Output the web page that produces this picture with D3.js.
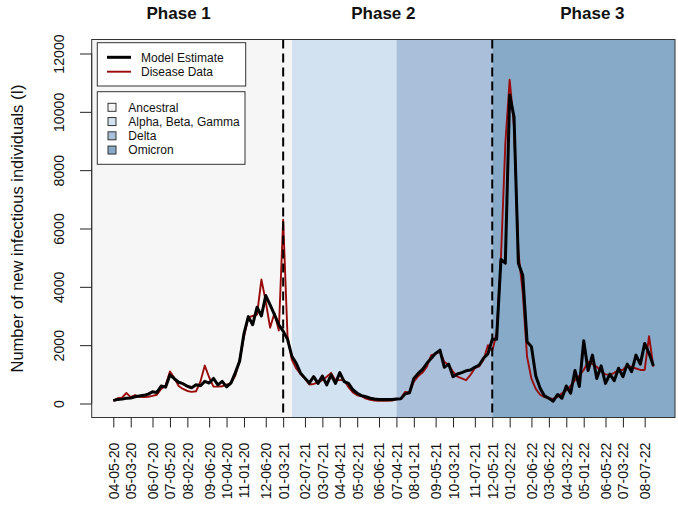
<!DOCTYPE html>
<html><head><meta charset="utf-8">
<script src="https://cdn.jsdelivr.net/npm/d3@7"></script>
<style>body{margin:0;background:#fff}svg{display:block;font-family:"Liberation Sans",Arial,sans-serif}</style>
</head><body><svg id="c" width="678" height="508"></svg>
<script>
const tickLabels = ["04-05-20","05-03-20","06-07-20","07-05-20","08-02-20","09-06-20","10-04-20","11-01-20","12-06-20","01-03-21","02-07-21","03-07-21","04-04-21","05-02-21","06-06-21","07-04-21","08-01-21","09-05-21","10-03-21","11-07-21","12-05-21","01-02-22","02-06-22","03-06-22","04-03-22","05-01-22","06-05-22","07-03-22","08-07-22"];
const seriesStart = "04-05-20";
const modelEstimate = [100,140,150,180,190,230,260,280,320,400,380,600,560,980,850,730,680,590,540,640,610,760,700,860,640,760,570,700,1050,1450,2400,2980,2700,3300,3000,3700,3380,3050,2700,2480,2200,1620,1380,1040,870,700,920,690,940,640,980,690,1060,750,690,470,350,270,230,180,155,140,140,140,140,155,160,330,370,860,1030,1170,1380,1550,1720,1830,1240,1350,920,1010,1060,1120,1150,1240,1320,1550,1700,2200,2200,4940,4810,10580,9830,4810,4400,2120,1950,940,520,260,180,80,310,180,600,350,1130,580,2150,1130,1660,860,1290,690,1010,780,1210,920,1350,1090,1660,1350,2060,1720,1290];
const diseaseData = [100,180,200,360,220,290,230,220,230,260,300,500,620,1100,880,600,500,430,400,420,750,1300,900,580,580,590,650,700,950,1500,2300,2950,3000,3050,4250,3500,2600,3100,2500,6300,2300,1500,1200,1010,850,650,670,720,800,920,1050,800,800,800,560,380,280,250,170,130,100,90,90,90,100,140,160,400,380,750,940,1060,1260,1660,1700,1780,1430,1320,1090,920,860,800,980,1210,1270,1500,2000,1800,2400,5000,8900,11100,9500,5200,3800,1600,850,500,300,220,170,160,230,350,450,600,800,950,1150,1430,1350,1260,1100,1000,980,1050,1150,1150,1320,1250,1200,1150,1150,2310,1260];
const variantNames = ["Ancestral","Alpha, Beta, Gamma","Delta","Omicron"];
const variantStarts = [null,"01-17-21","07-04-21","12-05-21"];
const variantColors = ["#f6f6f6","#d3e2f0","#aac0da","#87aac8"];
const phaseNames = ["Phase 1","Phase 2","Phase 3"];
const phaseLabelDates = ["07-19-20","06-13-21","05-15-22"];
const phaseBreaks = ["01-03-21","12-05-21"];
const yTickValues = [0,2000,4000,6000,8000,10000,12000];
const legendSeries = ["Model Estimate","Disease Data"];

const parse = d3.timeParse("%m-%d-%y");
const t0 = parse(seriesStart);
const dates = modelEstimate.map((_, i) => d3.timeWeek.offset(t0, i));
const tEnd = dates[dates.length - 1];
const pad = 0.04 * (tEnd - t0);

const L = 91.7, R = 675, T = 39.5, B = 417.5;
const x = d3.scaleTime().domain([new Date(+t0 - pad), new Date(+tEnd + pad)]).range([L, R]);
const y = d3.scaleLinear().domain([-480, 12480]).range([B, T]);

const svg = d3.select("#c");

// backgrounds
const starts = variantStarts.map(s => s ? x(parse(s)) : L);
svg.append("g").selectAll("rect").data(variantNames).join("rect")
  .attr("x", (d, i) => starts[i])
  .attr("y", T)
  .attr("width", (d, i) => (i < starts.length - 1 ? starts[i + 1] : R) - starts[i])
  .attr("height", B - T)
  .attr("fill", (d, i) => variantColors[i]);

// lines
const line = d3.line().x((d, i) => x(dates[i])).y(d => y(d));
svg.append("path").datum(diseaseData).attr("d", line)
  .attr("fill", "none").attr("stroke", "#9a0a0a").attr("stroke-width", 1.9).attr("stroke-linejoin", "round");
svg.append("path").datum(modelEstimate).attr("d", line)
  .attr("fill", "none").attr("stroke", "#000").attr("stroke-width", 3).attr("stroke-linejoin", "round");

// phase dashed lines
svg.append("g").selectAll("line").data(phaseBreaks).join("line")
  .attr("x1", d => x(parse(d))).attr("x2", d => x(parse(d)))
  .attr("y1", T).attr("y2", B)
  .attr("stroke", "#000").attr("stroke-width", 2).attr("stroke-dasharray", "9,5");

// box
svg.append("rect").attr("x", L).attr("y", T).attr("width", R - L).attr("height", B - T)
  .attr("fill", "none").attr("stroke", "#333").attr("stroke-width", 1);

// x axis
const xAxis = d3.axisBottom(x).tickValues(tickLabels.map(parse)).tickFormat(d3.timeFormat("%m-%d-%y")).tickSizeOuter(0).tickSize(10);
const gx = svg.append("g").attr("transform", `translate(0,${B})`).call(xAxis);
gx.select(".domain").remove();
gx.selectAll(".tick line").attr("stroke", "#222");
gx.selectAll(".tick text")
  .attr("font-size", 14.2).attr("fill", "#111").attr("font-family", "Liberation Sans, Arial, sans-serif")
  .attr("transform", "rotate(-90)")
  .attr("text-anchor", "end").attr("x", -25).attr("y", 0).attr("dy", "0.35em");

// y axis
const yAxis = d3.axisLeft(y).tickValues(yTickValues).tickFormat(d3.format("d")).tickSize(11.7).tickSizeOuter(0);
const gy = svg.append("g").attr("transform", `translate(${L},0)`).call(yAxis);
gy.select(".domain").attr("stroke", "#333").attr("d", `M0,${y(0)}V${y(12000)}`);
gy.selectAll(".tick line").attr("stroke", "#222");
gy.selectAll(".tick text")
  .attr("font-size", 14.2).attr("fill", "#111").attr("font-family", "Liberation Sans, Arial, sans-serif")
  .attr("text-anchor", "middle")
  .attr("x", 0).attr("y", 0).attr("dy", 0)
  .attr("transform", "translate(-27.7,0) rotate(-90)");

// y title
svg.append("text").attr("transform", `translate(23,${(T + B) / 2}) rotate(-90)`)
  .attr("text-anchor", "middle").attr("font-size", 16.5).attr("fill", "#111")
  .text("Number of new infectious individuals (I)");

// phase titles
svg.append("g").selectAll("text").data(phaseNames).join("text")
  .attr("x", (d, i) => x(parse(phaseLabelDates[i]))).attr("y", 19)
  .attr("text-anchor", "middle").attr("font-weight", "bold").attr("font-size", 17).attr("fill", "#111")
  .text(d => d);

// legend 1
const lg1 = svg.append("g");
lg1.append("rect").attr("x", 97.3).attr("y", 42.7).attr("width", 148.4).attr("height", 43.3)
  .attr("fill", "#fff").attr("stroke", "#333").attr("stroke-width", 1);
const legendStroke = [{c: "#000", w: 3}, {c: "#9a0a0a", w: 1.9}];
legendSeries.forEach((name, i) => {
  const yy = 57.3 + i * 14.4;
  lg1.append("line").attr("x1", 107).attr("x2", 131).attr("y1", yy).attr("y2", yy)
    .attr("stroke", legendStroke[i].c).attr("stroke-width", legendStroke[i].w);
  lg1.append("text").attr("x", 141).attr("y", yy + 4.3).attr("font-size", 12).attr("fill", "#111").text(name);
});

// legend 2
const lg2 = svg.append("g");
lg2.append("rect").attr("x", 97.3).attr("y", 91.7).attr("width", 147.7).attr("height", 72.6)
  .attr("fill", "#fff").attr("stroke", "#333").attr("stroke-width", 1);
variantNames.forEach((name, i) => {
  const yy = 107.3 + i * 14.25;
  lg2.append("rect").attr("x", 108).attr("y", yy - 4).attr("width", 8).attr("height", 8)
    .attr("fill", variantColors[i]).attr("stroke", "#333").attr("stroke-width", 1);
  lg2.append("text").attr("x", 128.3).attr("y", yy + 4.3).attr("font-size", 12).attr("fill", "#111").text(name);
});
</script></body></html>
